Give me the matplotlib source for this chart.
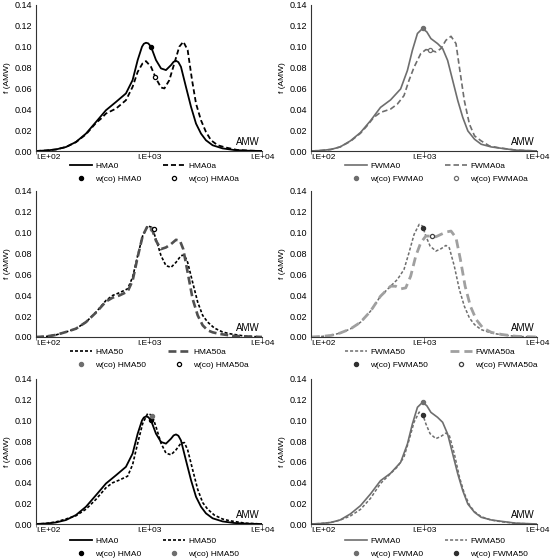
import matplotlib
matplotlib.use("Agg")
import matplotlib.pyplot as plt
from matplotlib.lines import Line2D

plt.rcParams['font.family'] = ['Liberation Sans', 'DejaVu Sans']

# ---- data (AMW, f(AMW)) ----
hma0_amw = [100, 123, 150, 184, 226, 277, 340, 416, 511, 625, 716, 794, 867, 900, 940,
            985, 1042, 1153, 1277, 1413, 1567, 1650, 1734, 1820, 1918, 2123, 2355, 2606,
            2884, 3191, 3656, 4477, 5623, 7413, 10000]
hma0_f = [0.0, 0.0005, 0.0015, 0.0038, 0.0087, 0.0167, 0.0279, 0.0391, 0.0471, 0.0552,
          0.068, 0.0872, 0.100, 0.1028, 0.1038, 0.1032, 0.100, 0.0872, 0.0792, 0.0776,
          0.0824, 0.0855, 0.0865, 0.0852, 0.0807, 0.0615, 0.0423, 0.0263, 0.0167, 0.0103,
          0.0055, 0.0025, 0.001, 0.0003, 0.0]

hma0a_amw = [100, 123, 150, 184, 226, 277, 340, 376, 416, 511, 625, 716, 794, 877, 940,
             1042, 1153, 1277, 1368, 1514, 1675, 1854, 2014, 2198, 2404, 2606, 2884, 3191,
             3540, 4055, 4797, 6026, 7943, 10000]
hma0a_f = [0.0, 0.0005, 0.0015, 0.0038, 0.0085, 0.016, 0.027, 0.031, 0.0359, 0.0407,
           0.0487, 0.0615, 0.0759, 0.084, 0.0862, 0.0807, 0.0696, 0.0609, 0.060, 0.068,
           0.084, 0.100, 0.1048, 0.0968, 0.068, 0.0455, 0.0295, 0.0183, 0.0103, 0.0055,
           0.0033, 0.001, 0.0003, 0.0]

hma50_amw = [100, 123, 150, 184, 226, 277, 340, 416, 476, 546, 647, 716, 794, 879, 973,
             1064, 1153, 1277, 1413, 1567, 1734, 1918, 2056, 2198, 2432, 2698, 2985, 3304,
             3784, 4477, 5141, 7079, 10000]
hma50_f = [0.0, 0.0005, 0.002, 0.0048, 0.008, 0.0143, 0.0239, 0.035, 0.0398, 0.0424,
           0.0462, 0.0573, 0.078, 0.097, 0.1066, 0.105, 0.0939, 0.078, 0.0684, 0.0668,
           0.0716, 0.078, 0.0786, 0.0716, 0.0525, 0.0334, 0.0207, 0.0143, 0.0086, 0.0048,
           0.0032, 0.0008, 0.0]

hma50a_amw = [100, 123, 150, 184, 226, 277, 340, 416, 476, 546, 647, 716, 794, 879, 973,
              1064, 1153, 1277, 1413, 1567, 1734, 1879, 2009, 2198, 2432, 2698, 2985, 3304,
              3656, 4188, 5623, 10000]
hma50a_f = [0.0, 0.0005, 0.002, 0.0048, 0.008, 0.0143, 0.0235, 0.034, 0.0377, 0.0398,
            0.0436, 0.054, 0.0767, 0.097, 0.1066, 0.1034, 0.0923, 0.0843, 0.0859, 0.0891,
            0.0932, 0.0923, 0.0843, 0.062, 0.0366, 0.0207, 0.0112, 0.0064, 0.0045, 0.003,
            0.001, 0.0]

fwma0_amw = [100, 123, 150, 181, 223, 274, 336, 412, 506, 621, 713, 789, 875, 971, 1059,
             1151, 1318, 1462, 1618, 1795, 1991, 2203, 2443, 2799, 3206, 3936, 4831, 6500,
             10000]
fwma0_f = [0.0, 0.0005, 0.0015, 0.0039, 0.0097, 0.0177, 0.029, 0.0418, 0.049, 0.0595,
           0.0772, 0.0965, 0.1127, 0.1175, 0.1142, 0.1078, 0.103, 0.0982, 0.0869, 0.0676,
           0.0483, 0.0322, 0.0193, 0.0113, 0.0065, 0.0039, 0.0026, 0.0008, 0.0]

fwma0a_amw = [100, 123, 150, 181, 223, 274, 313, 359, 412, 506, 581, 665, 736, 817, 935,
              1038, 1151, 1274, 1413, 1563, 1734, 1919, 2056, 2275, 2523, 2799, 3206, 3802,
              4519, 6500, 10000]
fwma0a_f = [0.0, 0.0005, 0.0015, 0.0039, 0.0092, 0.017, 0.0241, 0.0322, 0.037, 0.0402,
            0.045, 0.0531, 0.0676, 0.0804, 0.0933, 0.0972, 0.0966, 0.095, 0.0982, 0.1062,
            0.110, 0.103, 0.0804, 0.0483, 0.0258, 0.0145, 0.0097, 0.0048, 0.0032, 0.0008,
            0.0]

fwma50_amw = [100, 123, 150, 181, 223, 274, 336, 412, 506, 581, 665, 736, 817, 906, 971,
              1038, 1132, 1274, 1413, 1563, 1675, 1854, 2056, 2275, 2523, 2799, 3206, 3936,
              4831, 6500, 10000]
fwma50_f = [0.0, 0.0005, 0.0015, 0.0038, 0.0077, 0.0141, 0.0247, 0.0391, 0.0487, 0.0551,
            0.0647, 0.0807, 0.0984, 0.108, 0.1064, 0.0968, 0.0872, 0.0824, 0.0846, 0.0878,
            0.0855, 0.068, 0.0455, 0.0295, 0.0183, 0.0119, 0.0071, 0.0038, 0.0022, 0.0006,
            0.0]

fwma50a_amw = [100, 123, 150, 181, 223, 274, 336, 412, 506, 561, 621, 689, 762, 845, 935,
               1038, 1151, 1274, 1413, 1563, 1734, 1919, 2099, 2312, 2576, 2897, 3319, 3936,
               4831, 6500, 10000]
fwma50a_f = [0.0, 0.0005, 0.0015, 0.0038, 0.0077, 0.0141, 0.0247, 0.0391, 0.0487, 0.0487,
             0.0461, 0.0471, 0.0583, 0.0775, 0.0903, 0.0968, 0.0968, 0.0961, 0.0984, 0.1006,
             0.1016, 0.0952, 0.0744, 0.0487, 0.0295, 0.0167, 0.0087, 0.0045, 0.0025, 0.0007,
             0.0]

# w(co) points
wco_amw = {"HMA0": 1042, "HMA0a": 1138, "HMA50": 1070, "HMA50a": 1114,
           "FWMA0": 971, "FWMA0a": 1132, "FWMA50": 971, "FWMA50a": 1167}
wco_f = {"HMA0": 0.100, "HMA0a": 0.0711, "HMA50": 0.104, "HMA50a": 0.1034,
         "FWMA0": 0.1175, "FWMA0a": 0.0966, "FWMA50": 0.1048, "FWMA50a": 0.0968}

y_ticks = [0.00, 0.02, 0.04, 0.06, 0.08, 0.10, 0.12, 0.14]
x_ticks = [100, 1000, 10000]
x_tick_labels = ["I.E+02", "I.E+03", "I.E+04"]

# ---- styles ----
GRAY = "#6e6e6e"
LIGHT = "#a0a0a0"
series = {
    "HMA0": (hma0_amw, hma0_f, dict(color="black", lw=1.3, ls="-")),
    "HMA0a": (hma0a_amw, hma0a_f, dict(color="black", lw=1.3, ls=(0, (2.8, 1.6)))),
    "HMA50": (hma50_amw, hma50_f, dict(color="black", lw=1.2, ls=(0, (1.8, 1.2)))),
    "HMA50a": (hma50a_amw, hma50a_f, dict(color="#505050", lw=1.9, ls=(0, (3.0, 1.5)))),
    "FWMA0": (fwma0_amw, fwma0_f, dict(color=GRAY, lw=1.2, ls="-")),
    "FWMA0a": (fwma0a_amw, fwma0a_f, dict(color=GRAY, lw=1.2, ls=(0, (3.3, 1.8)))),
    "FWMA50": (fwma50_amw, fwma50_f, dict(color=GRAY, lw=1.1, ls=(0, (2.0, 1.3)))),
    "FWMA50a": (fwma50a_amw, fwma50a_f, dict(color=LIGHT, lw=2.0, ls=(0, (3.2, 1.8)))),
}
marks = {
    "HMA0": dict(mfc="black", mec="black"),
    "HMA0a": dict(mfc="white", mec="black"),
    "HMA50": dict(mfc=GRAY, mec=GRAY),
    "HMA50a": dict(mfc="white", mec="black"),
    "FWMA0": dict(mfc=GRAY, mec=GRAY),
    "FWMA0a": dict(mfc="white", mec=GRAY),
    "FWMA50": dict(mfc="#303030", mec="#303030"),
    "FWMA50a": dict(mfc="white", mec="#404040"),
}

panels = [
    ("HMA0", "HMA0a"), ("FWMA0", "FWMA0a"),
    ("HMA50", "HMA50a"), ("FWMA50", "FWMA50a"),
    ("HMA0", "HMA50"), ("FWMA0", "FWMA50"),
]

fig = plt.figure(figsize=(5.5, 5.58), dpi=100)
W, H = 550.0, 558.0
col_left = [36, 311]
row_top = [5, 191, 379]
row_bot = [151, 337, 524]

for i, names in enumerate(panels):
    r, c = divmod(i, 2)
    ax = fig.add_axes([col_left[c] / W, 1 - row_bot[r] / H, 226 / W,
                       (row_bot[r] - row_top[r]) / H])
    handles = []
    for n in names:
        x, y, st = series[n]
        line, = ax.plot(x, y, label=n, **st)
        mk = Line2D([], [], ls="none", marker="o", ms=3, mew=0.9, **marks[n],
                    label="w(co) " + n)
        ax.plot([wco_amw[n]], [wco_f[n]], ls="none", marker="o", ms=3, mew=0.9,
                zorder=5, **marks[n])
        handles += [line, mk]
    ax.set_xscale("log")
    ax.set_xlim(100, 10000)
    ax.set_ylim(0, 0.14)
    ax.set_yticks(y_ticks)
    ax.set_yticklabels([f"{v:.2f}" for v in y_ticks])
    ax.set_xticks(x_ticks)
    ax.set_xticklabels(x_tick_labels)
    ax.get_xticklabels()[0].set_horizontalalignment("left")
    ax.minorticks_off()
    ax.tick_params(axis="x", labelsize=6)
    ax.tick_params(axis="y", labelsize=6.5, length=0, pad=3)
    ax.tick_params(axis="x", length=2, width=0.6, pad=0.5, color="#666666")
    for s in ("top", "right"):
        ax.spines[s].set_visible(False)
    for s in ("left", "bottom"):
        ax.spines[s].set_linewidth(0.8)
        ax.spines[s].set_color("#333333")
    ax.set_ylabel("f (AMW)", fontsize=6, labelpad=2)
    ax.text(0.99, 0.025, "AMW", transform=ax.transAxes, ha="right", va="bottom",
            fontsize=7)
    y_leg = -0.075 if r < 2 else -0.09
    ax.legend(handles=handles, ncol=2, loc="upper left", bbox_to_anchor=(0.152, y_leg),
              frameon=False, fontsize=6, handlelength=2.6, handletextpad=0.4,
              columnspacing=2.6, labelspacing=0.6, borderpad=0, borderaxespad=0)

fig.savefig("out.png", dpi=100, facecolor="white")
